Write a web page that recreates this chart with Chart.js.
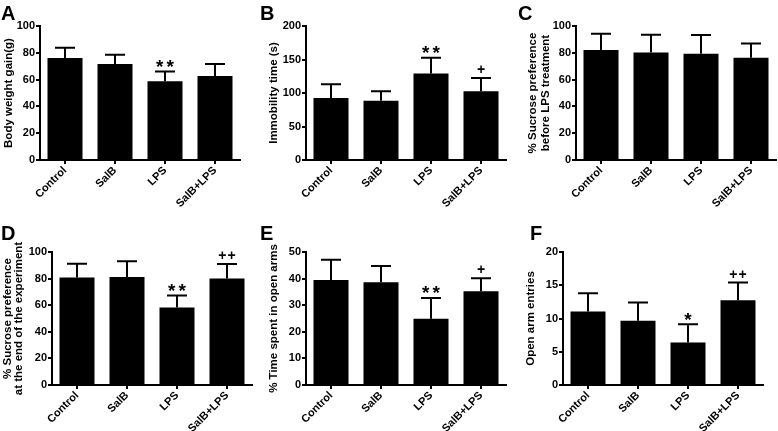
<!DOCTYPE html>
<html>
<head>
<meta charset="utf-8">
<script src="https://cdn.jsdelivr.net/npm/chart.js@4.4.1/dist/chart.umd.min.js"></script>
<style>
  body { margin: 0; background: #fff; }
  #wrap { position: relative; width: 778px; height: 431px; overflow: hidden; background: #fff; }
  #wrap canvas { position: absolute; }
</style>
</head>
<body>
<div id="wrap"></div>
<script>
// Groups (same for every panel)
const groups = ['Control', 'SalB', 'LPS', 'SalB+LPS'];

// A - body weight gain
const weightMean = [76.2, 71.7, 58.7, 62.7];
const weightErr = [7.5, 6.8, 7.3, 9.0];
const weightMarks = ['', '', '**', ''];

// B - immobility time
const immobMean = [92.5, 88.5, 129, 102.5];
const immobErr = [20.5, 14, 23.5, 20];
const immobMarks = ['', '', '**', '+'];

// C - sucrose preference before LPS
const sucroseBeforeMean = [82, 80.25, 79.25, 76.25];
const sucroseBeforeErr = [12.25, 13.25, 14, 10.75];
const sucroseBeforeMarks = ['', '', '', ''];

// D - sucrose preference at the end
const sucroseEndMean = [80.75, 81.25, 58.25, 80];
const sucroseEndErr = [10.5, 11.75, 9, 11];
const sucroseEndMarks = ['', '', '**', '++'];

// E - % time in open arms
const openTimeMean = [39.5, 38.6, 24.9, 35.25];
const openTimeErr = [7.6, 6.15, 7.85, 4.85];
const openTimeMarks = ['', '', '**', '+'];

// F - open arm entries
const entriesMean = [11.05, 9.65, 6.4, 12.75];
const entriesErr = [2.75, 2.75, 2.75, 2.65];
const entriesMarks = ['', '', '*', '++'];

const FONT = '"Liberation Sans", Arial, sans-serif';

// Panel setup: data + where the plot box sits
const panels = [
  { letter: 'A', mean: weightMean, err: weightErr, marks: weightMarks, max: 100, step: 20,
    title: 'Body weight gain(g)', titlePad: 2.4, titleLH: 1.15,
    left: 0, top: 0, width: 258, height: 215, padTop: 26, padRight: 18, yWidth: 40, xHeight: 55, letterX: 1 },
  { letter: 'B', mean: immobMean, err: immobErr, marks: immobMarks, max: 200, step: 50,
    title: 'Immobility time (s)', titlePad: 7.4, titleLH: 1.15,
    left: 260, top: 0, width: 258, height: 215, padTop: 26, padRight: 12, yWidth: 46, xHeight: 55, letterX: 0 },
  { letter: 'C', mean: sucroseBeforeMean, err: sucroseBeforeErr, marks: sucroseBeforeMarks, max: 100, step: 20,
    title: ['% Sucrose preference', 'before LPS treatment'], titlePad: 8.4, titleLH: 1.15,
    left: 518, top: 0, width: 260, height: 215, padTop: 26, padRight: 2, yWidth: 58, xHeight: 55, letterX: 0 },
  { letter: 'D', mean: sucroseEndMean, err: sucroseEndErr, marks: sucroseEndMarks, max: 100, step: 20,
    title: ['% Sucrose preference', 'at the end of the experiment'], titlePad: 3, titleLH: 0.9,
    left: 0, top: 215, width: 258, height: 216, padTop: 37, padRight: 6, yWidth: 52, xHeight: 46, letterX: 1 },
  { letter: 'E', mean: openTimeMean, err: openTimeErr, marks: openTimeMarks, max: 50, step: 10,
    title: '% Time spent in open arms', titlePad: 7.4, titleLH: 1.15,
    left: 260, top: 215, width: 258, height: 216, padTop: 37, padRight: 12, yWidth: 46, xHeight: 46, letterX: 0 },
  { letter: 'F', mean: entriesMean, err: entriesErr, marks: entriesMarks, max: 20, step: 5,
    title: 'Open arm entries', titlePad: 6, titleLH: 1.15,
    left: 518, top: 215, width: 260, height: 216, padTop: 37, padRight: 15, yWidth: 45, xHeight: 46, letterX: 12 }
];

// Error bars (upper only) and significance marks, placed through the y scale
const errorBars = {
  id: 'errorBars',
  afterDatasetsDraw(chart, args, opts) {
    const ctx = chart.ctx;
    const y = chart.scales.y;
    const meta = chart.getDatasetMeta(0);
    const values = chart.data.datasets[0].data;
    ctx.save();
    ctx.strokeStyle = '#000';
    ctx.lineWidth = 2;
    meta.data.forEach((bar, i) => {
      const capY = y.getPixelForValue(values[i] + opts.errors[i]);
      ctx.beginPath();
      ctx.moveTo(bar.x, bar.y);
      ctx.lineTo(bar.x, capY);
      ctx.moveTo(bar.x - 10, capY);
      ctx.lineTo(bar.x + 10, capY);
      ctx.stroke();

      const mark = opts.marks[i];
      if (mark) {
        const isStar = mark[0] === '*';
        ctx.fillStyle = '#000';
        ctx.font = 'bold ' + (isStar ? 19 : 14) + 'px ' + FONT;
        ctx.textBaseline = 'alphabetic';
        ctx.textAlign = 'left';
        const gap = isStar ? 3 : 1;
        const chars = mark.split('');
        const widths = chars.map(c => ctx.measureText(c).width);
        let total = widths.reduce((a, b) => a + b, 0) + gap * (chars.length - 1);
        let x = bar.x - total / 2;
        const baseY = capY - (isStar ? -1.5 : 4);
        chars.forEach((c, k) => {
          ctx.fillText(c, x, baseY);
          x += widths[k] + gap;
        });
      }
    });
    ctx.restore();
  }
};

// Panel letter in the corner
const panelLetter = {
  id: 'panelLetter',
  afterDraw(chart, args, opts) {
    const ctx = chart.ctx;
    ctx.save();
    ctx.fillStyle = '#000';
    ctx.font = 'bold 20px ' + FONT;
    ctx.textBaseline = 'alphabetic';
    ctx.textAlign = 'left';
    ctx.fillText(opts.letter, opts.x, opts.y);
    ctx.restore();
  }
};

function makePanel(p) {
  const canvas = document.createElement('canvas');
  canvas.width = p.width;
  canvas.height = p.height;
  canvas.style.left = p.left + 'px';
  canvas.style.top = p.top + 'px';
  canvas.style.width = p.width + 'px';
  canvas.style.height = p.height + 'px';
  document.getElementById('wrap').appendChild(canvas);

  const tickFont = { family: FONT, size: 11, weight: 'bold' };

  return new Chart(canvas.getContext('2d'), {
    type: 'bar',
    data: {
      labels: groups,
      datasets: [{
        data: p.mean,
        backgroundColor: '#000',
        borderWidth: 0,
        barPercentage: 0.7,
        categoryPercentage: 1.0
      }]
    },
    options: {
      responsive: false,
      animation: false,
      layout: { padding: { top: p.padTop, right: p.padRight, left: 0, bottom: 0 } },
      plugins: {
        legend: { display: false },
        tooltip: { enabled: false },
        errorBars: { errors: p.err, marks: p.marks },
        panelLetter: { letter: p.letter, x: p.letterX, y: p.top === 0 ? 20 : 25 }
      },
      scales: {
        x: {
          offset: true,
          grid: { display: true, drawOnChartArea: false, drawTicks: true, tickLength: 4, offset: false, color: '#000', lineWidth: 2 },
          border: { display: true, color: '#000', width: 2 },
          ticks: { color: '#000', font: tickFont, minRotation: 45, maxRotation: 45, autoSkip: false, padding: 0 },
          afterFit: s => { s.height = p.xHeight; s.paddingLeft = 0; s.paddingRight = 0; }
        },
        y: {
          min: 0,
          max: p.max,
          grid: { display: true, drawOnChartArea: false, drawTicks: true, tickLength: 4, color: '#000', lineWidth: 2 },
          border: { display: true, color: '#000', width: 2 },
          ticks: { stepSize: p.step, color: '#000', font: tickFont, padding: 1 },
          title: {
            display: true,
            text: p.title,
            color: '#000',
            font: { family: FONT, size: 11.5, weight: 'bold', lineHeight: p.titleLH },
            padding: { top: p.titlePad, bottom: 0 }
          },
          afterFit: s => { s.width = p.yWidth; s.paddingTop = 0; s.paddingBottom = 0; }
        }
      }
    },
    plugins: [errorBars, panelLetter]
  });
}

panels.forEach(makePanel);
</script>
</body>
</html>
